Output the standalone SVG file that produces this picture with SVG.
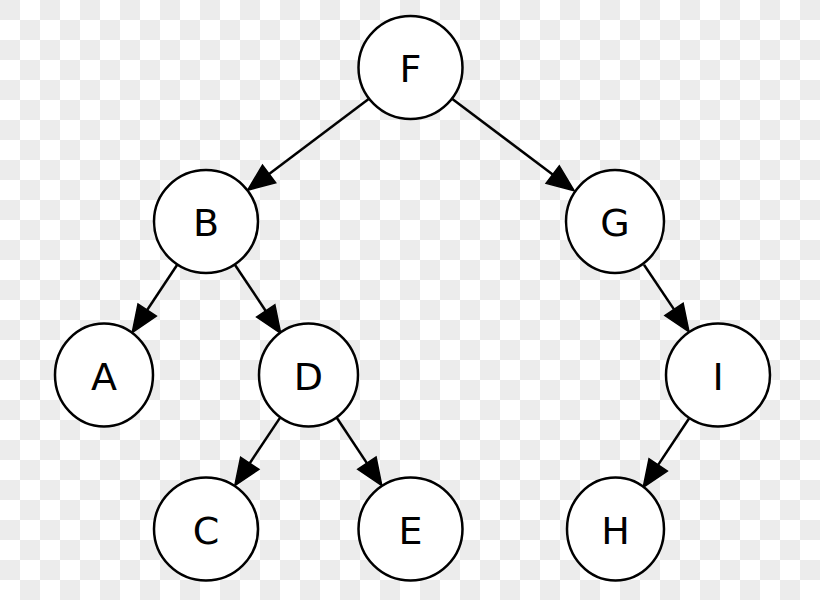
<svg xmlns="http://www.w3.org/2000/svg" width="820" height="600" viewBox="0 0 820 600">
<style>
.node ellipse{fill:#fff;stroke:#000;stroke-width:2.5}
.node text{font-family:"DejaVu Sans","Liberation Sans",sans-serif;font-size:38px;text-anchor:middle;fill:#000}
.edge{stroke:#000;stroke-width:2.5;fill:none}
</style>
<defs>
<pattern id="chk" width="40" height="40" patternUnits="userSpaceOnUse">
<rect width="40" height="40" fill="#fff"/>
<rect width="20" height="20" fill="#ececec"/>
<rect x="20" y="20" width="20" height="20" fill="#ececec"/>
</pattern>
<marker id="arr" markerUnits="userSpaceOnUse" markerWidth="30" markerHeight="26" refX="0" refY="11" orient="auto" overflow="visible">
<path d="M0,0 L27,11 L0,22 Z" fill="#000" stroke="#000" stroke-width="1.5" stroke-linejoin="miter"/>
</marker>
</defs>
<rect width="820" height="600" fill="url(#chk)"/>
<g id="edges">
<line class="edge" x1="368.96" y1="98.78" x2="269.1" y2="173.98" marker-end="url(#arr)"/>
<line class="edge" x1="452.04" y1="98.78" x2="552.69" y2="174.58" marker-end="url(#arr)"/>
<line class="edge" x1="177.22" y1="264.81" x2="147.16" y2="310.03" marker-end="url(#arr)"/>
<line class="edge" x1="234.88" y1="264.74" x2="265.75" y2="310.97" marker-end="url(#arr)"/>
<line class="edge" x1="280.8" y1="416.6" x2="249.76" y2="463.23" marker-end="url(#arr)"/>
<line class="edge" x1="336.1" y1="416.7" x2="366.89" y2="463.09" marker-end="url(#arr)"/>
<line class="edge" x1="643.97" y1="264.68" x2="673.99" y2="309.4" marker-end="url(#arr)"/>
<line class="edge" x1="689.2" y1="418.3" x2="658.16" y2="464.93" marker-end="url(#arr)"/>
</g>
<g id="node-F" class="node"><ellipse cx="410.5" cy="67.5" rx="52" ry="51.5"/><text x="410.5" y="82">F</text></g>
<g id="node-B" class="node"><ellipse cx="206" cy="221.5" rx="52" ry="51.5"/><text x="206" y="236">B</text></g>
<g id="node-G" class="node"><ellipse cx="615" cy="221.5" rx="49" ry="51.5"/><text x="615" y="236">G</text></g>
<g id="node-A" class="node"><ellipse cx="104" cy="375" rx="49" ry="51.5"/><text x="104" y="389.5">A</text></g>
<g id="node-D" class="node"><ellipse cx="308.5" cy="375" rx="49.5" ry="51.5"/><text x="308.5" y="389.5">D</text></g>
<g id="node-I" class="node"><ellipse cx="718" cy="375" rx="52" ry="51.5"/><text x="718" y="389.5">I</text></g>
<g id="node-C" class="node"><ellipse cx="206" cy="529" rx="52" ry="51.5"/><text x="206" y="543.5">C</text></g>
<g id="node-E" class="node"><ellipse cx="410.5" cy="529" rx="52" ry="51.5"/><text x="410.5" y="543.5">E</text></g>
<g id="node-H" class="node"><ellipse cx="615.5" cy="529" rx="48.5" ry="51.5"/><text x="615.5" y="543.5">H</text></g>
</svg>
